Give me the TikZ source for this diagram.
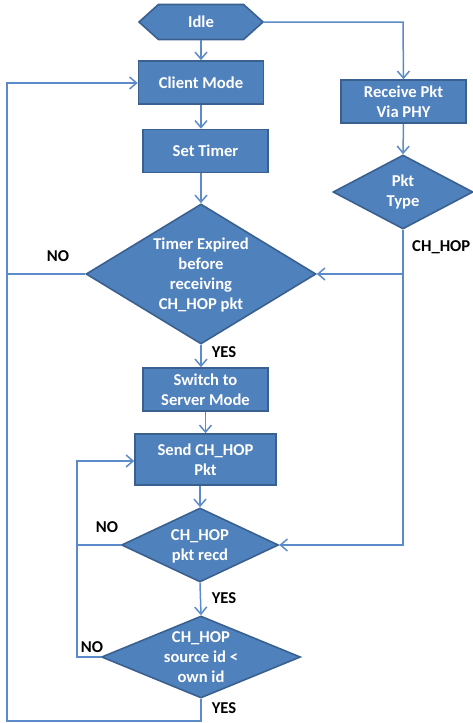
\documentclass[tikz,border=0pt]{standalone}
\usepackage{fontspec}
\setmainfont{Carlito}
\usetikzlibrary{shapes.geometric,shapes.symbols,arrows.meta}
\definecolor{boxfill}{HTML}{4F81BD}
\definecolor{boxedge}{HTML}{3A6090}
\definecolor{linecol}{HTML}{5B8BC9}
\begin{document}
\begin{tikzpicture}[x=1pt,y=-1pt,
  every node/.style={font=\fontsize{16.6}{20}\selectfont\bfseries},
  procbox/.style={draw=boxedge,line width=1.6pt,fill=boxfill,text=white,align=center,inner sep=0pt,minimum width=125pt,minimum height=43pt},
  decision/.style={diamond,draw=boxedge,line width=1.6pt,fill=boxfill,inner sep=0pt},
  dtext/.style={text=white,align=center},
  hexa/.style={signal,signal to=west and east,signal pointer angle=84,draw=boxedge,line width=1.6pt,fill=boxfill,text=white,inner sep=0pt,minimum width=124pt,minimum height=35pt},
  conn/.style={draw=linecol,line width=1.5pt,-{Straight Barb[length=7pt,width=12pt,line width=1.5pt]}},
  plain/.style={draw=linecol,line width=1.5pt},
  lab/.style={text=black,inner sep=0pt}
]
\useasboundingbox (0,0) rectangle (472,723);

\node[hexa] (idle) at (201,22) {Idle};
\node[procbox] (client) at (201,82.5) {Client Mode};
\node[procbox] (timer) at (205.5,151) {Set Timer};
\node[procbox] (recv) at (403.5,101.5) {Receive Pkt\\Via PHY};
\node[decision,minimum width=140pt,minimum height=74pt] (ptype) at (403,192) {};
\node[dtext] (ptypet) at (403,192) {Pkt\\Type};
\node[decision,minimum width=230pt,minimum height=140pt] (expired) at (201,274) {};
\node[dtext] (expiredt) at (201,275) {Timer Expired\\before\\receiving\\CH\_HOP pkt};
\node[procbox] (switch) at (205.5,389.5) {Switch to\\Server Mode};
\node[procbox,minimum width=141pt,minimum height=51pt] (send) at (205.5,459.5) {Send CH\_HOP\\Pkt};
\node[decision,minimum width=157pt,minimum height=74pt] (recd) at (200,545) {};
\node[dtext] (recdt) at (200,546) {CH\_HOP\\pkt recd};
\node[decision,minimum width=199pt,minimum height=82pt] (src) at (201,657) {};
\node[dtext] (srct) at (201,657) {CH\_HOP\\source id <\\own id};

\node[lab] (no1) at (58,256) {NO};
\node[lab,anchor=east] (chhop) at (470.5,247) {CH\_HOP};
\node[lab] (yes1) at (224,352) {YES};
\node[lab] (no2) at (107,527) {NO};
\node[lab] (yes2) at (224,598) {YES};
\node[lab] (no3) at (92,647) {NO};
\node[lab] (yes3) at (224,708) {YES};

\coordinate (c1) at (403,22);
\coordinate (c2) at (403,274);
\coordinate (c3) at (403,545);
\coordinate (l1) at (7,274);
\coordinate (l2) at (7,83);
\coordinate (l3) at (7,721);
\coordinate (b1) at (201,721);
\coordinate (m1) at (77,545);
\coordinate (m2) at (77,461);
\coordinate (m3) at (77,657);

\draw[conn] (idle.south) -- (client.north);
\draw[conn] (idle.east) -- (c1) -- (recv.north);
\draw[conn] (recv.south) -- (ptype.north);
\draw[conn] (client.south) -- (client.south |- timer.north);
\draw[conn] (timer.south -| expired.north) -- (expired.north);
\draw[conn] (ptype.south) -- (c2) -- (expired.east);
\draw[conn] (c2) -- (c3) -- (recd.east);
\draw[conn] (expired.west) -- (l1) -- (l2) -- (client.west |- l2);
\draw[plain] (l1) -- (l3) -- (b1) -- (src.south);
\draw[conn] (expired.south) -- (expired.south |- switch.north);
\draw[conn] (switch.south) -- (send.north);
\draw[conn] (send.south -| recd.north) -- (recd.north);
\draw[conn] (recd.south) -- (src.north);
\draw[conn] (recd.west) -- (m1) -- (m2) -- (send.west |- m2);
\draw[plain] (src.west) -- (m3) -- (m1);
\end{tikzpicture}
\end{document}
